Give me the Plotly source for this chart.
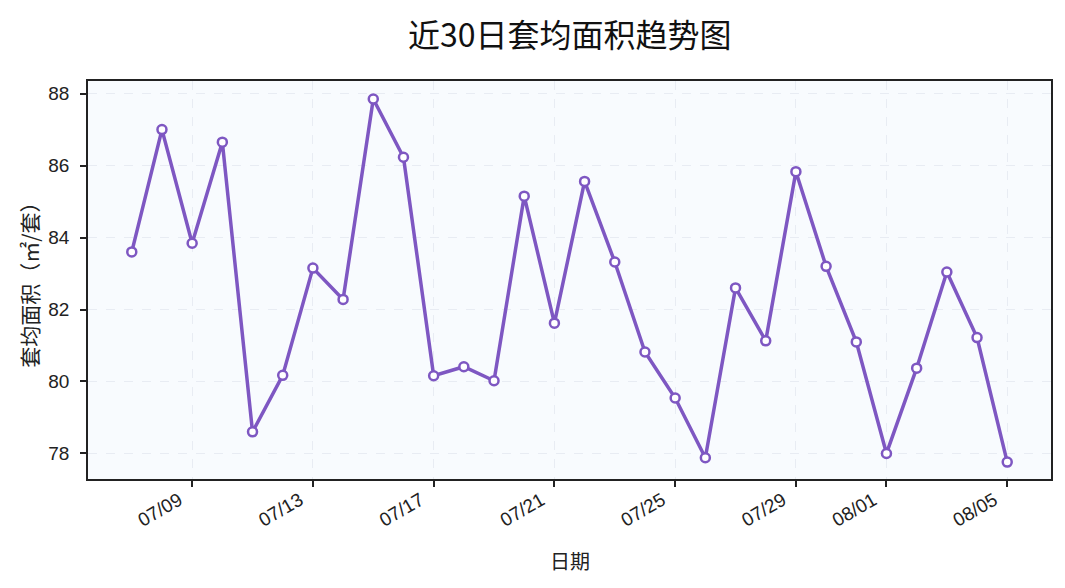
import plotly.graph_objects as go
import pandas as pd

dates = pd.date_range("2024-07-07", "2024-08-05", freq="D")
area_values = [83.60, 87.00, 83.84, 86.65, 78.60, 80.17, 83.15, 82.28, 87.85, 86.23,
               80.16, 80.41, 80.02, 85.15, 81.62, 85.56, 83.32, 80.82, 79.54, 77.88,
               82.60, 81.13, 85.83, 83.20, 81.10, 78.00, 80.37, 83.04, 81.22, 77.76]
tick_dates = ["2024-07-09", "2024-07-13", "2024-07-17", "2024-07-21", "2024-07-25",
              "2024-07-29", "2024-08-01", "2024-08-05"]
tick_labels = ["07/09", "07/13", "07/17", "07/21", "07/25", "07/29", "08/01", "08/05"]
y_ticks = [78, 80, 82, 84, 86, 88]

title_text = "近30日套均面积趋势图"
x_title = "日期"
y_title = "套均面积（㎡/套）"

color = "#7E57C2"
font_family = "Liberation Sans, Noto Sans CJK SC, sans-serif"
cjk_family = "Noto Sans CJK SC, sans-serif"

fig = go.Figure()
fig.add_trace(go.Scatter(
    x=dates, y=area_values, mode="lines+markers",
    line=dict(color=color, width=3.5),
    marker=dict(symbol="circle", size=9, color="white",
                line=dict(color=color, width=2.5)),
    showlegend=False,
))

span = dates[-1] - dates[0]
pad = span * 0.05
fig.update_layout(
    width=1065, height=588,
    margin=dict(l=79.5, r=22, t=73, b=117),
    paper_bgcolor="white",
    plot_bgcolor="#F8FBFE",
    font=dict(family=font_family, color="#222222", size=19),
    annotations=[
        dict(text=title_text, xref="paper", yref="paper", x=0.5, y=1.12,
             xanchor="center", yanchor="middle", showarrow=False,
             font=dict(size=32, color="#111111", family=cjk_family)),
        dict(text=x_title, xref="paper", yref="paper", x=0.5, y=-0.205,
             xanchor="center", yanchor="middle", showarrow=False,
             font=dict(size=20, family=cjk_family, color="#222222")),
        dict(text=y_title, xref="paper", yref="paper", x=-0.0615, y=0.5,
             xanchor="center", yanchor="middle", showarrow=False, textangle=-90,
             font=dict(size=21, family=cjk_family, color="#222222")),
    ],
)
fig.update_xaxes(
    type="date", automargin=False,
    range=[dates[0] - pad, dates[-1] + pad],
    tickvals=tick_dates, ticktext=tick_labels, tickangle=-30,
    ticklabelshift=-13, ticklabelstandoff=-5,
    ticks="outside", ticklen=6, tickwidth=1.5, tickcolor="#222222",
    tickfont=dict(size=19),
    showline=True, linecolor="#222222", linewidth=1.8, mirror=True,
    showgrid=True, gridcolor="#E8ECF3", griddash="dash", gridwidth=1,
    zeroline=False,
)
fig.update_yaxes(
    automargin=False,
    range=[77.29, 88.35],
    tickvals=y_ticks, ticklabelstandoff=7,
    ticks="outside", ticklen=6, tickwidth=1.5, tickcolor="#222222",
    tickfont=dict(size=19),
    showline=True, linecolor="#222222", linewidth=1.8, mirror=True,
    showgrid=True, gridcolor="#E8ECF3", griddash="dash", gridwidth=1,
    zeroline=False,
)

fig.write_html("out.html")
